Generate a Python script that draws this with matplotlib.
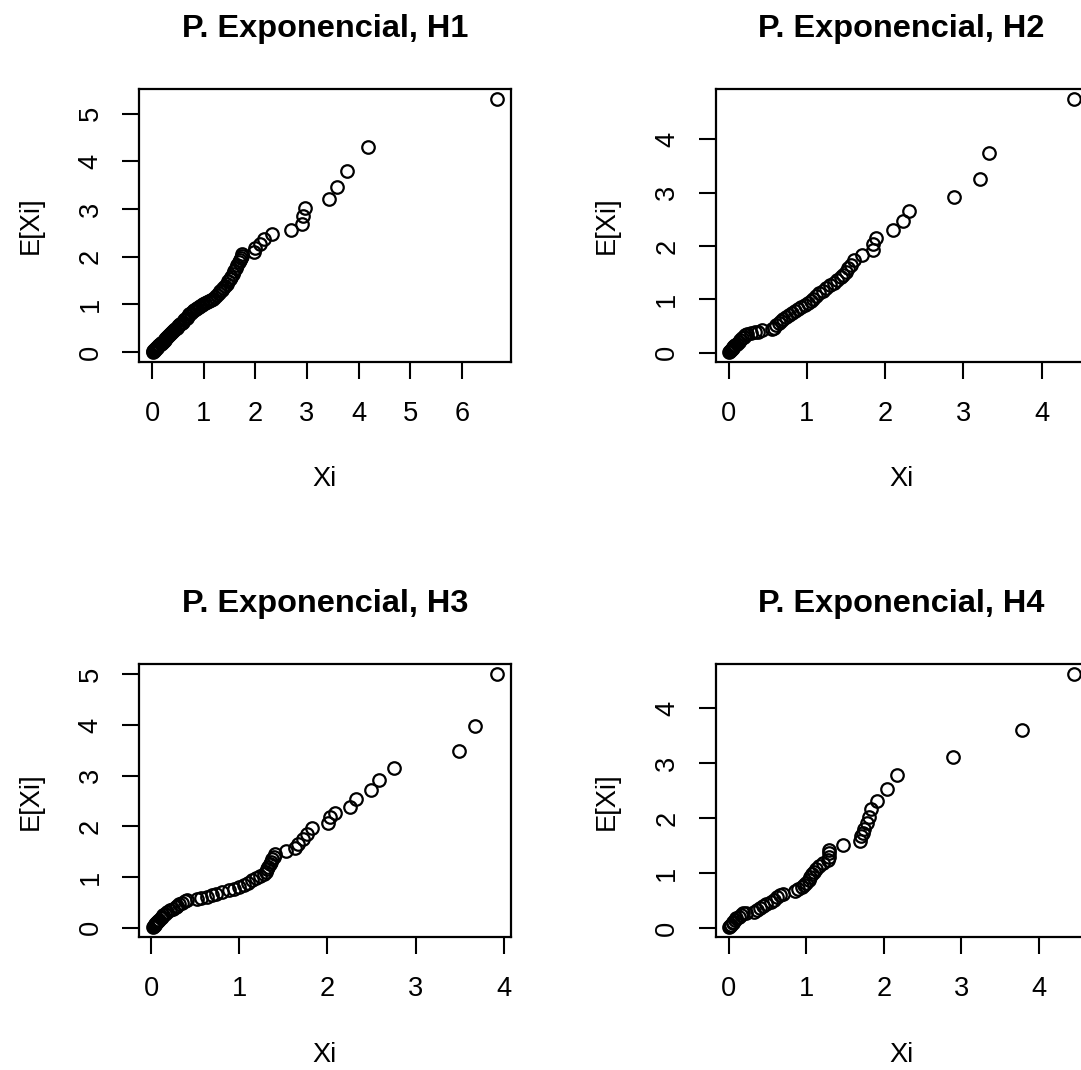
import matplotlib.pyplot as plt

plt.rcParams['font.family'] = ['Liberation Sans', 'DejaVu Sans']

# valores (Xi, E[Xi]) para cada hipotesis
h1_x = [0.01, 0.02, 0.03, 0.04, 0.05, 0.06, 0.07, 0.09, 0.10, 0.11,
        0.13, 0.14, 0.16, 0.17, 0.19, 0.20, 0.22, 0.24, 0.25, 0.27,
        0.29, 0.31, 0.33, 0.35, 0.37, 0.39, 0.41, 0.43, 0.45, 0.47,
        0.50, 0.52, 0.54, 0.57, 0.59, 0.62, 0.64, 0.67, 0.70, 0.72,
        0.75, 0.78, 0.81, 0.84, 0.87, 0.90, 0.93, 0.96, 0.99, 1.02,
        1.06, 1.10, 1.14, 1.18, 1.22, 1.26, 1.29, 1.32, 1.35, 1.38,
        1.41, 1.44, 1.47, 1.50, 1.53, 1.56, 1.59, 1.62, 1.65, 1.68,
        1.70, 1.72, 1.73, 1.74, 1.97, 1.99, 2.08, 2.16, 2.33, 2.69,
        2.90, 2.92, 2.97, 3.43, 3.59, 3.77, 4.18, 6.68]
h1_y = [0.01, 0.02, 0.03, 0.04, 0.05, 0.07, 0.08, 0.09, 0.11, 0.12,
        0.14, 0.15, 0.17, 0.19, 0.20, 0.22, 0.24, 0.26, 0.27, 0.29,
        0.31, 0.33, 0.35, 0.38, 0.40, 0.42, 0.44, 0.46, 0.49, 0.51,
        0.54, 0.56, 0.59, 0.61, 0.64, 0.67, 0.69, 0.72, 0.76, 0.79,
        0.82, 0.86, 0.88, 0.90, 0.92, 0.94, 0.96, 0.98, 1.00, 1.02,
        1.05, 1.07, 1.09, 1.12, 1.15, 1.19, 1.23, 1.27, 1.31, 1.35,
        1.39, 1.43, 1.48, 1.53, 1.58, 1.64, 1.70, 1.76, 1.82, 1.88,
        1.93, 1.98, 2.02, 2.06, 2.10, 2.18, 2.27, 2.38, 2.47, 2.57,
        2.69, 2.85, 3.02, 3.21, 3.46, 3.79, 4.30, 5.30]

h2_x = [0.01, 0.02, 0.03, 0.04, 0.05, 0.06, 0.07, 0.08, 0.10, 0.13,
        0.15, 0.17, 0.19, 0.21, 0.24, 0.29, 0.33, 0.37, 0.42, 0.55,
        0.58, 0.61, 0.64, 0.67, 0.70, 0.73, 0.77, 0.81, 0.85, 0.89,
        0.93, 0.97, 1.01, 1.05, 1.08, 1.11, 1.16, 1.20, 1.24, 1.30,
        1.34, 1.38, 1.43, 1.46, 1.50, 1.53, 1.56, 1.60, 1.70, 1.84,
        1.85, 1.88, 2.10, 2.23, 2.31, 2.88, 3.21, 3.33, 4.41]
h2_y = [0.02, 0.03, 0.05, 0.06, 0.08, 0.10, 0.12, 0.14, 0.17, 0.20,
        0.24, 0.27, 0.30, 0.33, 0.35, 0.37, 0.38, 0.39, 0.42, 0.44,
        0.47, 0.51, 0.55, 0.59, 0.63, 0.67, 0.71, 0.75, 0.78, 0.82,
        0.86, 0.89, 0.93, 0.97, 1.01, 1.06, 1.11, 1.16, 1.21, 1.26,
        1.31, 1.36, 1.41, 1.46, 1.52, 1.58, 1.65, 1.73, 1.83, 1.92,
        2.03, 2.15, 2.30, 2.47, 2.65, 2.92, 3.25, 3.75, 4.75]

h3_x = [0.02, 0.03, 0.04, 0.05, 0.06, 0.07, 0.08, 0.09, 0.11, 0.12,
        0.14, 0.16, 0.18, 0.21, 0.25, 0.28, 0.30, 0.32, 0.35, 0.38,
        0.41, 0.52, 0.57, 0.63, 0.69, 0.74, 0.81, 0.88, 0.94, 1.00,
        1.05, 1.10, 1.15, 1.19, 1.24, 1.28, 1.30, 1.32, 1.33, 1.35,
        1.36, 1.37, 1.39, 1.40, 1.53, 1.63, 1.67, 1.72, 1.77, 1.82,
        2.01, 2.03, 2.09, 2.26, 2.32, 2.49, 2.58, 2.75, 3.49, 3.67,
        3.92]
h3_y = [0.01, 0.03, 0.05, 0.07, 0.09, 0.11, 0.14, 0.16, 0.19, 0.22,
        0.25, 0.28, 0.31, 0.34, 0.37, 0.40, 0.43, 0.46, 0.49, 0.52,
        0.54, 0.56, 0.58, 0.61, 0.64, 0.67, 0.70, 0.74, 0.77, 0.81,
        0.85, 0.89, 0.94, 0.98, 1.02, 1.06, 1.10, 1.15, 1.20, 1.25,
        1.30, 1.35, 1.40, 1.45, 1.52, 1.58, 1.66, 1.76, 1.86, 1.97,
        2.07, 2.18, 2.26, 2.39, 2.54, 2.71, 2.91, 3.16, 3.49, 3.99,
        5.00]

h4_x = [0.01, 0.02, 0.03, 0.05, 0.06, 0.08, 0.10, 0.13, 0.16, 0.19,
        0.22, 0.32, 0.36, 0.40, 0.44, 0.48, 0.54, 0.58, 0.62, 0.66,
        0.70, 0.86, 0.90, 0.94, 0.97, 1.00, 1.03, 1.05, 1.08, 1.10,
        1.13, 1.17, 1.22, 1.28, 1.29, 1.29, 1.30, 1.47, 1.69, 1.71,
        1.73, 1.75, 1.78, 1.81, 1.84, 1.91, 2.04, 2.17, 2.90, 3.78,
        4.45]
h4_y = [0.02, 0.04, 0.06, 0.09, 0.12, 0.15, 0.18, 0.21, 0.24, 0.27,
        0.28, 0.30, 0.33, 0.37, 0.41, 0.44, 0.48, 0.52, 0.56, 0.60,
        0.63, 0.67, 0.71, 0.75, 0.79, 0.83, 0.88, 0.93, 0.98, 1.03,
        1.08, 1.13, 1.18, 1.24, 1.30, 1.36, 1.42, 1.51, 1.59, 1.67,
        1.74, 1.81, 1.91, 2.03, 2.16, 2.32, 2.53, 2.78, 3.11, 3.61,
        4.61]

titles = ['P. Exponencial, H1', 'P. Exponencial, H2',
          'P. Exponencial, H3', 'P. Exponencial, H4']
series = [(h1_x, h1_y), (h2_x, h2_y), (h3_x, h3_y), (h4_x, h4_y)]
xticks = [range(0, 7), range(0, 5), range(0, 5), range(0, 5)]
yticks = [range(0, 6), range(0, 5), range(0, 6), range(0, 5)]

# posiciones de los paneles (fraccion de la figura), estilo par(mfrow=c(2,2))
boxes = [[0.1286, 0.6620, 0.3438, 0.2546],
         [0.6621, 0.6620, 0.3438, 0.2546],
         [0.1286, 0.1240, 0.3438, 0.2551],
         [0.6621, 0.1240, 0.3438, 0.2551]]

fig = plt.figure(figsize=(10.81, 10.70), dpi=100)

for i in range(4):
    ax = fig.add_axes(boxes[i])
    x, y = series[i]
    ax.plot(x, y, 'o', linestyle='none', markerfacecolor='none',
            markeredgecolor='black', markersize=9.0, markeredgewidth=1.6)
    # limites como en R (4% del rango)
    rx = max(x) - min(x)
    ry = max(y) - min(y)
    ax.set_xlim(min(x) - 0.04 * rx, max(x) + 0.04 * rx)
    ax.set_ylim(min(y) - 0.04 * ry, max(y) + 0.04 * ry)
    ax.set_xticks(list(xticks[i]))
    ax.set_yticks(list(yticks[i]))
    ax.tick_params(length=12, width=1.5, labelsize=19.6)
    ax.tick_params(axis='x', pad=16)
    ax.tick_params(axis='y', pad=13.5)
    plt.setp(ax.get_yticklabels(), rotation=90, va='center')
    for s in ax.spines.values():
        s.set_linewidth(1.6)
    ax.set_xlabel('Xi', fontsize=19.6, va='center')
    ax.set_ylabel('E[Xi]', fontsize=19.6, va='center')
    ax.xaxis.set_label_coords(0.5, -0.43)
    ax.yaxis.set_label_coords(-0.292, 0.5)
    ax.text(0.5, 1.222, titles[i], transform=ax.transAxes, ha='center',
            va='center', fontsize=23.4, fontweight='bold')

fig.savefig('out.png', dpi=100)
